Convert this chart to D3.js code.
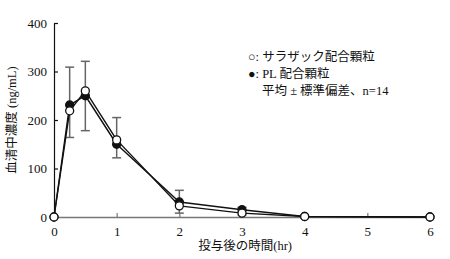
<!DOCTYPE html>
<html>
<head>
<meta charset="utf-8">
<script src="https://cdn.jsdelivr.net/npm/d3@7"></script>
<style>
  body { margin: 0; background: #fff; }
  svg text { font-family: "Liberation Serif", "DejaVu Serif", "Noto Sans CJK JP", serif; }
</style>
</head>
<body>
<div id="chart"></div>
<script>
// time after dose (hr)
const times = [0, 0.25, 0.5, 1, 2, 3, 4, 6];
// ○ サラザック配合顆粒
const openMean = [0, 219, 260, 159, 23, 8, 1, 0];
const openSdUp = [0, 0, 61, 46, 0, 0, 0, 0];
const openSdDown = [0, 55, 0, 0, 15, 4, 0, 0];
// ● PL 配合顆粒
const filledMean = [0, 231, 250, 150, 31, 15, 1, 0];
const filledSdUp = [0, 78, 0, 0, 24, 5, 0, 0];
const filledSdDown = [0, 0, 72, 28, 0, 0, 0, 0];

const xTicks = [0, 1, 2, 3, 4, 5, 6];
const yTicks = [0, 100, 200, 300, 400];
const legendLines = ["○: サラザック配合顆粒", "●: PL 配合顆粒", "平均 ± 標準偏差、n=14"];

const margin = { top: 23, right: 20, bottom: 42, left: 54 },
  width = 450 - margin.left - margin.right,
  height = 259 - margin.top - margin.bottom;

const svg = d3
  .select("#chart")
  .append("svg")
  .attr("width", 450)
  .attr("height", 259)
  .append("g")
  .attr("transform", `translate(${margin.left},${margin.top})`);

const x = d3.scaleLinear().domain([0, 6]).range([0, width]);
const y = d3.scaleLinear().domain([0, 400]).range([height, 0]);

// x axis (gray, ticks inside)
const xAxis = svg
  .append("g")
  .attr("transform", `translate(0, ${height})`)
  .call(
    d3
      .axisBottom(x)
      .tickValues(xTicks)
      .tickFormat(d3.format("d"))
      .tickSizeInner(-4)
      .tickSizeOuter(0)
      .tickPadding(10)
  );
xAxis.select(".domain").attr("stroke", "#777").attr("stroke-width", 1.5);
xAxis.selectAll(".tick line").attr("stroke", "#777").attr("stroke-width", 1.2);
xAxis.selectAll(".tick text").attr("font-size", 13).attr("fill", "#111");

// y axis (black, ticks inside)
const yAxis = svg
  .append("g")
  .call(d3.axisLeft(y).tickValues(yTicks).tickSizeInner(-4).tickSizeOuter(0).tickPadding(7));
yAxis.select(".domain").attr("stroke", "#111").attr("stroke-width", 1.2);
yAxis.selectAll(".tick line").attr("stroke", "#111").attr("stroke-width", 1.2);
yAxis.selectAll(".tick text").attr("font-size", 13).attr("fill", "#111");

// error bars
function errorBars(mean, sd, dir) {
  const data = times
    .map((t, i) => ({ t: t, m: mean[i], e: sd[i] }))
    .filter((d) => d.e > 0);
  const g = svg.append("g").attr("stroke", "#666").attr("stroke-width", 1.5);
  g.selectAll("whatever")
    .data(data)
    .enter()
    .append("line")
    .attr("x1", (d) => x(d.t))
    .attr("x2", (d) => x(d.t))
    .attr("y1", (d) => y(d.m))
    .attr("y2", (d) => y(d.m + dir * d.e));
  g.selectAll("whatever")
    .data(data)
    .enter()
    .append("line")
    .attr("x1", (d) => x(d.t) - 4.5)
    .attr("x2", (d) => x(d.t) + 4.5)
    .attr("y1", (d) => y(d.m + dir * d.e))
    .attr("y2", (d) => y(d.m + dir * d.e));
}
errorBars(openMean, openSdUp, 1);
errorBars(openMean, openSdDown, -1);
errorBars(filledMean, filledSdUp, 1);
errorBars(filledMean, filledSdDown, -1);

const line = d3
  .line()
  .x((d) => x(d[0]))
  .y((d) => y(d[1]));

function series(mean, fill) {
  const data = times.map((t, i) => [t, mean[i]]);
  svg
    .append("path")
    .datum(data)
    .attr("fill", "none")
    .attr("stroke", "#111")
    .attr("stroke-width", 1.4)
    .attr("stroke-linejoin", "round")
    .attr("d", line);
  svg
    .selectAll("whatever")
    .data(data)
    .enter()
    .append("circle")
    .attr("cx", (d) => x(d[0]))
    .attr("cy", (d) => y(d[1]))
    .attr("r", 4)
    .attr("fill", fill)
    .attr("stroke", "#111")
    .attr("stroke-width", 1.3);
}
series(filledMean, "#111");
series(openMean, "#fff");

// legend
svg
  .selectAll("whatever")
  .data(legendLines)
  .enter()
  .append("text")
  .attr("x", (d, i) => (i < 2 ? 194 : 208))
  .attr("y", (d, i) => 38 + i * 17)
  .attr("font-size", 12.5)
  .attr("fill", "#111")
  .text((d) => d);

// axis labels
svg
  .append("text")
  .attr("text-anchor", "middle")
  .attr("x", x(3.05))
  .attr("y", height + 33)
  .attr("font-size", 12.5)
  .attr("fill", "#111")
  .text("投与後の時間(hr)");

svg
  .append("text")
  .attr("text-anchor", "middle")
  .attr("transform", `translate(${-38}, ${y(200)}) rotate(-90)`)
  .attr("font-size", 12.5)
  .attr("fill", "#111")
  .text("血清中濃度 (ng/mL)");
</script>
</body>
</html>
